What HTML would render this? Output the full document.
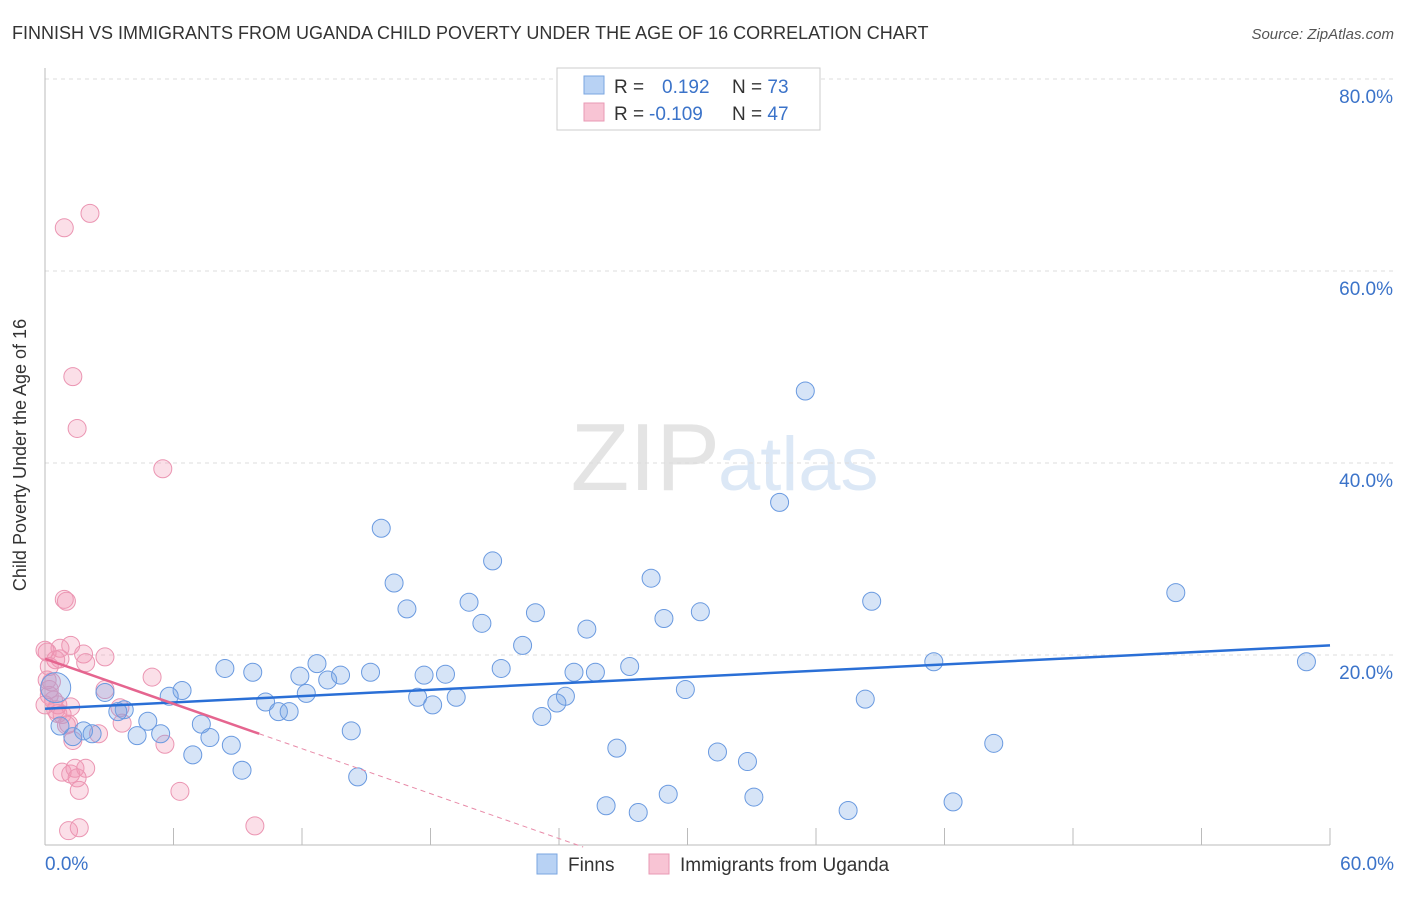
<!DOCTYPE html>
<html><head><meta charset="utf-8"><style>
body{margin:0;background:#fff;font-family:"Liberation Sans",sans-serif;}
svg text{font-family:"Liberation Sans",sans-serif;}
</style></head><body>
<svg width="1406" height="892" id="chart">
<text x="12" y="39" font-size="18" fill="#333">FINNISH VS IMMIGRANTS FROM UGANDA CHILD POVERTY UNDER THE AGE OF 16 CORRELATION CHART</text>
<text x="1394" y="39" font-size="15" fill="#555" font-style="italic" text-anchor="end">Source: ZipAtlas.com</text>
<text x="720" y="490" font-size="96" fill="#e4e4e4" text-anchor="end" font-family="Liberation Serif">ZIP</text>
<text x="718" y="490" font-size="76" fill="#dce8f6">atlas</text>
<text x="26" y="455" font-size="18" fill="#333" text-anchor="middle" transform="rotate(-90 26 455)">Child Poverty Under the Age of 16</text>
<g id="grid"></g><g id="pts"></g><g id="trend"></g>
<rect x="557" y="68" width="263" height="62" fill="#fff" stroke="#ccc"/>
<rect x="584" y="76" width="20" height="18" fill="#b8d2f4" stroke="#7aa6e0"/>
<rect x="584" y="103" width="20" height="18" fill="#f8c4d4" stroke="#e99ab4"/>
<text x="614" y="93" font-size="19" fill="#333">R = <tspan fill="#3b73c9" x="662">0.192</tspan><tspan x="732">N = </tspan><tspan fill="#3b73c9">73</tspan></text>
<text x="614" y="120" font-size="19" fill="#333">R = <tspan fill="#3b73c9" x="649">-0.109</tspan><tspan x="732">N = </tspan><tspan fill="#3b73c9">47</tspan></text>
<rect x="537" y="854" width="20" height="20" fill="#b8d2f4" stroke="#7aa6e0"/>
<text x="568" y="871" font-size="19" fill="#333">Finns</text>
<rect x="649" y="854" width="20" height="20" fill="#f8c4d4" stroke="#e99ab4"/>
<text x="680" y="871" font-size="19" fill="#333">Immigrants from Uganda</text>
</svg>
<script>
const yTicks=[20,40,60,80];
const xTickLabels=["0.0%","60.0%"];
const blueX=[35.5,34.3,15.7,20.9,16.3,28.3,52.8,16.9,19.8,22.9,38.6,20.4,28.9,30.6,25.3,22.3,41.5,58.9,8.4,9.7,12.7,11.9,13.2,13.8,15.2,17.7,18.7,21.3,24.7,25.7,27.3,6.4,2.8,5.8,12.2,10.3,17.4,19.2,18.1,24.3,29.9,38.3,23.9,23.2,3.7,3.4,4.8,10.9,11.4,7.3,0.7,1.8,2.2,4.3,5.4,7.7,8.7,14.3,26.7,31.4,44.3,6.9,9.2,14.6,32.8,0.5,26.2,27.7,29.1,33.1,37.5,42.4,1.3];
const blueY=[47.5,35.9,33.2,29.8,27.5,28.0,26.5,24.8,25.5,24.4,25.6,23.3,23.8,24.5,22.7,21.0,19.3,19.3,18.6,18.2,19.1,17.8,17.4,17.9,18.2,17.9,18.0,18.6,18.2,18.2,18.8,16.3,16.1,15.7,16.0,15.1,15.6,15.6,14.8,15.7,16.4,15.4,15.0,13.6,14.3,14.1,13.1,14.1,14.1,12.8,12.6,12.1,11.8,11.6,11.8,11.4,10.6,12.1,10.3,9.9,10.8,9.6,8.0,7.3,8.9,16.6,4.3,3.6,5.5,5.2,3.8,4.7,11.5];
const pinkX=[2.1,0.9,1.3,1.5,5.5,0.9,1.0,1.2,0.7,0.7,1.8,1.9,2.8,0.1,0.5,5.0,2.8,0.2,0.3,0.2,0.4,0.5,0.6,1.2,3.5,3.6,1.1,1.3,2.5,5.6,0.8,1.2,1.4,1.9,1.5,1.6,6.3,9.8,1.1,1.6,0.2,0.6,0.1,0.8,0,0,1.0];
const pinkY=[66.0,64.5,49.0,43.6,39.4,25.8,25.6,21.0,20.7,19.6,20.1,19.2,19.8,20.3,19.5,17.7,16.4,18.8,17.2,15.8,15.3,14.3,13.9,14.6,14.5,12.9,12.8,11.1,11.8,10.7,7.8,7.6,8.2,8.2,7.2,5.9,5.8,2.2,1.7,2.0,16.4,14.8,17.4,13.8,20.5,14.8,12.7];
const blueTrend=[14.4,21.0];
const pinkTrend=[19.6,11.8];
const NS="http://www.w3.org/2000/svg";
const sx=v=>45+v*(1285/60), sy=v=>847-v*9.6;
function mk(p,t,a){const e=document.createElementNS(NS,t);for(const k in a)e.setAttribute(k,a[k]);p.appendChild(e);return e;}
const grid=document.getElementById('grid');
yTicks.forEach(t=>{
 const l=mk(grid,'line',{x1:45,x2:1394,y1:sy(t),y2:sy(t),stroke:'#ddd','stroke-dasharray':'4,4'});
 
 
 const tx=mk(grid,'text',{x:1393,y:sy(t)+24,'font-size':19,fill:'#3b73c9','text-anchor':'end'});
 tx.textContent=t.toFixed(1)+'%';
 
 
});
mk(grid,'line',{x1:45,x2:45,y1:68,y2:845,stroke:'#bbb'});
const ax=mk(grid,'line',{x1:45,x2:1330,y1:845,y2:845,stroke:'#bbb'});


for(let i=0;i<=10;i++){mk(grid,'line',{x1:sx(i*6),x2:sx(i*6),y1:828,y2:845,stroke:'#bbb'});}
[[0,'start',45],[60,'end',1394]].forEach((d,i)=>{
 const t=mk(grid,'text',{x:d[2],y:870,'font-size':19,fill:'#3b73c9','text-anchor':d[1]});
 t.textContent=xTickLabels[i];
 
 
});
const pts=document.getElementById('pts');
pinkX.forEach((x,i)=>{
 const c=mk(pts,'circle',{cx:sx(x),cy:sy(pinkY[i]),r:9,fill:'rgba(242,150,180,0.3)',stroke:'#eb95b2','stroke-width':1});
 
 
});
blueX.forEach((x,i)=>{
 const c=mk(pts,'circle',{cx:sx(x),cy:sy(blueY[i]),r:i==65?15:9,fill:'rgba(120,165,230,0.3)',stroke:'#6a9ae0','stroke-width':1});
 
 
});
const tr=document.getElementById('trend');
const b=mk(tr,'line',{x1:sx(0),y1:sy(blueTrend[0]),x2:sx(60),y2:sy(blueTrend[1]),stroke:'#2a6fd6','stroke-width':2.5});


const slope=(pinkTrend[1]-pinkTrend[0])/10, x0=-pinkTrend[0]/slope;
const pd=mk(tr,'line',{x1:sx(10),y1:sy(pinkTrend[1]),x2:sx(x0),y2:sy(0),stroke:'#e88aa8','stroke-width':1,'stroke-dasharray':'5,4'});


const p=mk(tr,'line',{x1:sx(0),y1:sy(pinkTrend[0]),x2:sx(10),y2:sy(pinkTrend[1]),stroke:'#e5658f','stroke-width':2.5});


</script>
</body></html>
